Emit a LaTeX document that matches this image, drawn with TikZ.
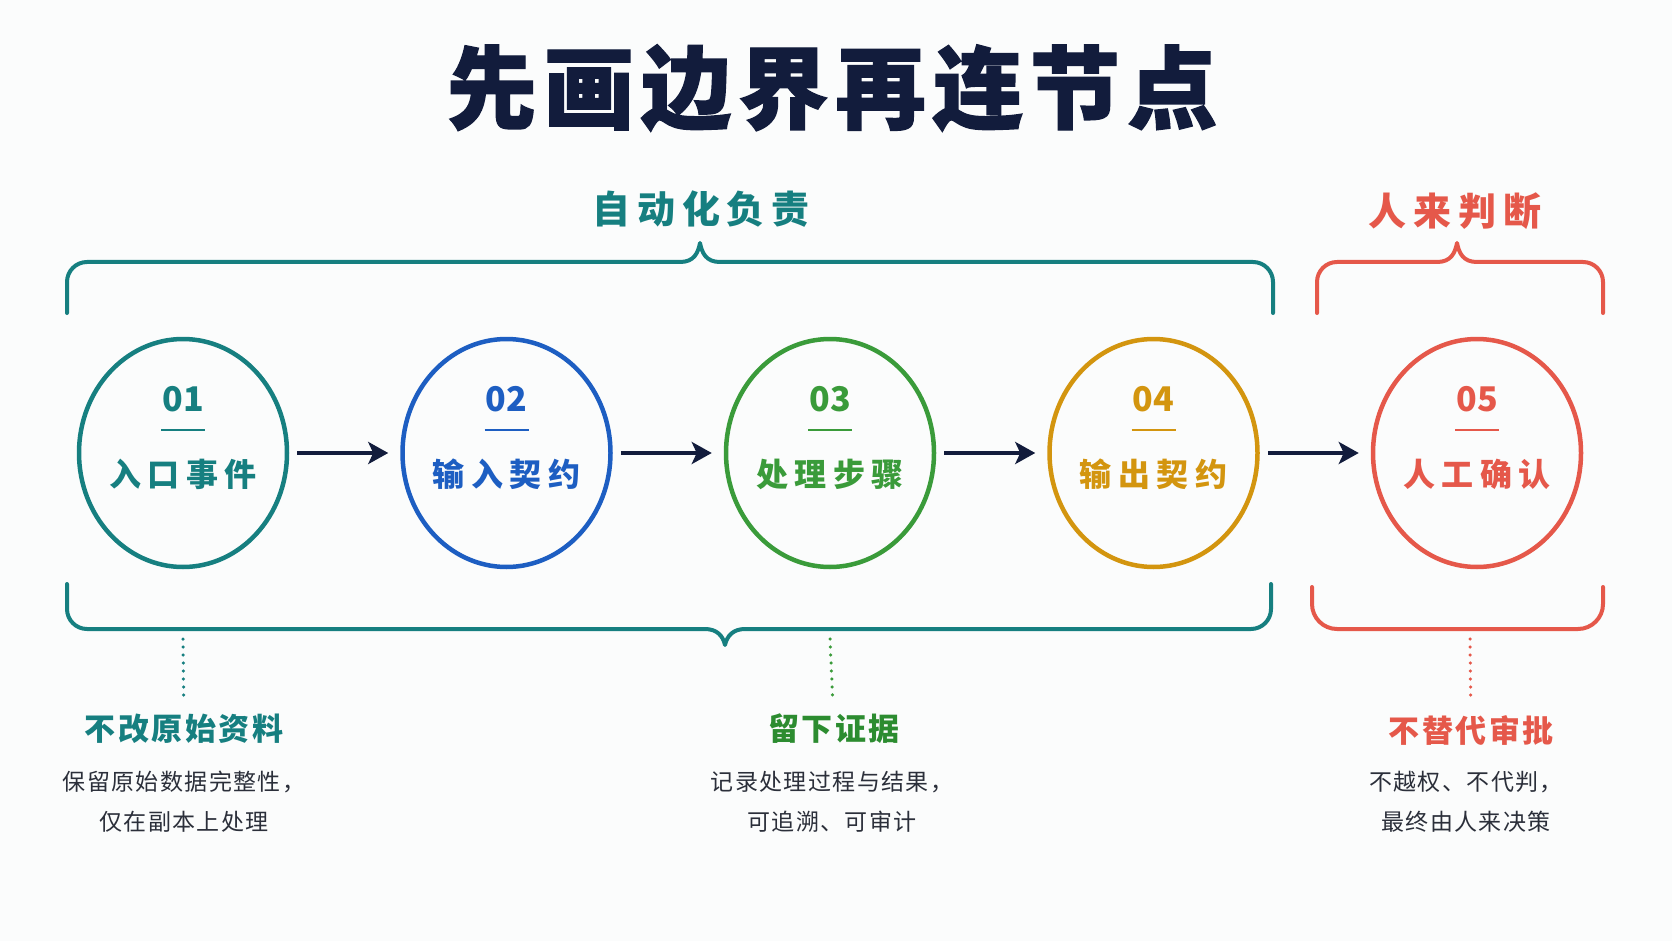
\documentclass[tikz,border=0pt]{standalone}
\usepackage{fontspec}
\setmainfont{Noto Sans CJK SC}
\usetikzlibrary{shapes.geometric, positioning, arrows.meta}

\definecolor{navy}{HTML}{121C3C}
\definecolor{tealc}{HTML}{167F80}
\definecolor{bluec}{HTML}{1D5EC2}
\definecolor{greenc}{HTML}{3A9B3A}
\definecolor{greentext}{HTML}{2C8C30}
\definecolor{goldc}{HTML}{D3950F}
\definecolor{redc}{HTML}{E5584A}
\definecolor{bodyc}{HTML}{2B2F3A}
\definecolor{bgc}{HTML}{FBFCFC}

\begin{document}
\begin{tikzpicture}[
    x=1pt, y=-1pt,
    node distance=111pt,
    stage/.style={ellipse, draw=#1, line width=4.5pt, minimum width=208pt, minimum height=228pt, inner sep=0pt},
    stepnum/.style={text=#1, font=\fontsize{34}{40}\selectfont\bfseries},
    steptext/.style={text=#1, font=\fontsize{32}{38}\selectfont\bfseries\addfontfeature{LetterSpace=20}},
    flow/.style={navy, line width=4pt, shorten <=8pt, shorten >=12pt, -{Stealth[length=20pt,width=22pt,inset=5pt]}},
    bracket/.style={draw=#1, line width=4pt, line cap=round, line join=round},
    dotline/.style={draw=#1, line width=3.5pt, line cap=round, dash pattern=on 0pt off 8pt, shorten >=14pt},
    groupname/.style={text=#1, font=\fontsize{38}{44}\selectfont\bfseries\addfontfeature{LetterSpace=18}},
    notehead/.style={text=#1, font=\fontsize{31}{36}\selectfont\bfseries\addfontfeature{LetterSpace=8}},
    notebody/.style={text=bodyc, align=center, font=\fontsize{23}{40}\selectfont\addfontfeature{LetterSpace=6}}
]

    % --- CANVAS ---
    \fill[bgc] (0,0) rectangle (1672,941);
    \useasboundingbox (0,0) rectangle (1672,941);

    % --- TITLE ---
    \node[text=navy, font=\fontsize{90}{100}\selectfont\bfseries\addfontfeature{LetterSpace=8,FakeBold=1.5}] (title) at (832,88) {先画边界再连节点};

    % --- STAGES ---
    \node[stage=tealc] (entry) at (183,453) {};
    \node[stage=bluec, right=of entry] (inspec) {};
    \node[stage=greenc, right=of inspec] (process) {};
    \node[stage=goldc, right=of process] (outspec) {};
    \node[stage=redc, right=of outspec] (review) {};

    % number, rule and name inside each stage
    \foreach \s/\num/\name/\col in {entry/01/入口事件/tealc, inspec/02/输入契约/bluec, process/03/处理步骤/greenc, outspec/04/输出契约/goldc, review/05/人工确认/redc}{
        \node[stepnum=\col, yshift=54pt] (\s-num) at (\s) {\num};
        \draw[\col, line width=2.5pt] ([xshift=-22pt, yshift=23pt]\s.center) -- ([xshift=22pt, yshift=23pt]\s.center);
        \node[steptext=\col, yshift=-21pt] (\s-name) at (\s) {\name};
    }

    % --- FLOW ---
    \draw[flow] (entry) -- (inspec);
    \draw[flow] (inspec) -- (process);
    \draw[flow] (process) -- (outspec);
    \draw[flow] (outspec) -- (review);

    % --- BRACKETS ---
    % automation, top
    \draw[bracket=tealc] (67,313) -- (67,282) arc[start angle=180, end angle=270, radius=20]
        -- (680,262) .. controls (694,262) and (698,253) .. (700,243)
        .. controls (702,253) and (706,262) .. (720,262)
        -- (1253,262) arc[start angle=270, end angle=360, radius=20] -- (1273,313);
    \node[groupname=tealc] (autolabel) at (701,209) {自动化负责};

    % automation, bottom
    \draw[bracket=tealc] (67,584) -- (67,609) arc[start angle=180, end angle=90, radius=20]
        -- (705,629) .. controls (717,629) and (723,636) .. (725,645)
        .. controls (727,636) and (733,629) .. (745,629)
        -- (1251,629) arc[start angle=90, end angle=0, radius=20] -- (1271,584);

    % human, top
    \draw[bracket=redc] (1317,313) -- (1317,282) arc[start angle=180, end angle=270, radius=20]
        -- (1437,262) .. controls (1451,262) and (1455,253) .. (1457,243)
        .. controls (1459,253) and (1463,262) .. (1477,262)
        -- (1583,262) arc[start angle=270, end angle=360, radius=20] -- (1603,313);
    \node[groupname=redc] (humanlabel) at (1455,211) {人来判断};

    % human, bottom
    \draw[bracket=redc] (1312,587) -- (1312,604) arc[start angle=180, end angle=90, radius=25]
        -- (1578,629) arc[start angle=90, end angle=0, radius=25] -- (1603,587);

    % --- NOTES ---
    \coordinate (tap1) at (183,639);
    \coordinate (tap2) at (830,639);
    \coordinate (tap3) at (1470,639);

    \node[notehead=tealc] (keep) at (184,729) {不改原始资料};
    \node[notehead=greentext] (trace) at (834,729) {留下证据};
    \node[notehead=redc] (approve) at (1471,730) {不替代审批};

    \draw[dotline=tealc] (tap1) -- (keep);
    \draw[dotline=greenc] (tap2) -- (trace);
    \draw[dotline=redc] (tap3) -- (approve);

    \node[notebody] (keep-text) at (184,802) {保留原始数据完整性，\\仅在副本上处理};
    \node[notebody] (trace-text) at (832,802) {记录处理过程与结果，\\可追溯、可审计};
    \node[notebody] (approve-text) at (1466,802) {不越权、不代判，\\最终由人来决策};

\end{tikzpicture}
\end{document}
